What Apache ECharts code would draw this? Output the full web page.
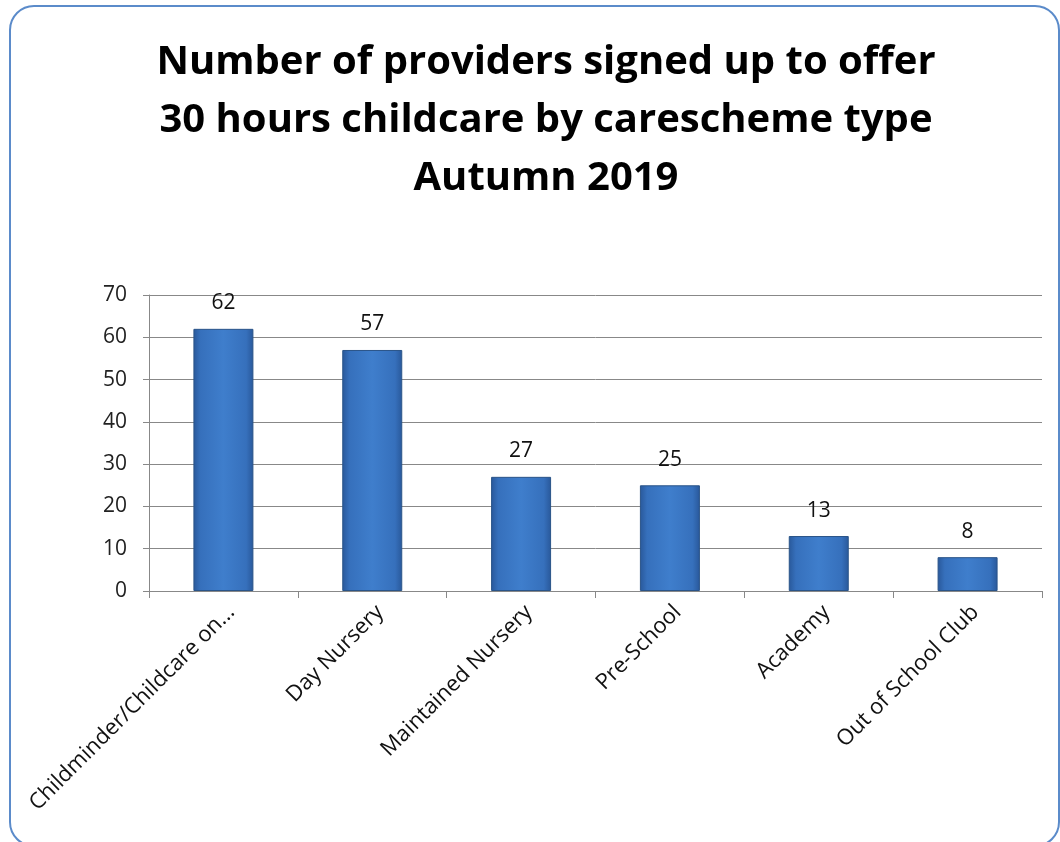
<!DOCTYPE html>
<html>
<head>
<meta charset="utf-8">
<script src="https://cdn.jsdelivr.net/npm/echarts@6/dist/echarts.min.js"></script>
<style>
  html, body { margin: 0; padding: 0; background: #fff; }
  #chart { width: 1060px; height: 842px; }
</style>
</head>
<body>
<div id="chart"></div>
<script>
var categories = ['Childminder/Childcare on...', 'Day Nursery', 'Maintained Nursery', 'Pre-School', 'Academy', 'Out of School Club'];
var providers = [62, 57, 27, 25, 13, 8];
var yTicks = [0, 10, 20, 30, 40, 50, 60, 70];

var chart = echarts.init(document.getElementById('chart'));
var font = '"Open Sans", Lato, sans-serif';

// darker sides, lighter middle, like the bevelled bars of the original
var barColor = new echarts.graphic.LinearGradient(0, 0, 1, 0, [
    {offset: 0, color: '#29589a'},
    {offset: 0.12, color: '#3670bc'},
    {offset: 0.5, color: '#3f7ecc'},
    {offset: 0.88, color: '#3670bc'},
    {offset: 1, color: '#29589a'}
]);

var option = {
    backgroundColor: '#fff',
    textStyle: {fontFamily: font},
    title: {
        text: 'Number of providers signed up to offer\n30 hours childcare by carescheme type\nAutumn 2019',
        left: 541,
        top: 29,
        textAlign: 'center',
        textStyle: {
            fontFamily: font,
            fontSize: 40,
            fontWeight: 'bold',
            color: '#000',
            lineHeight: 58
        }
    },
    graphic: [{
        type: 'rect',
        shape: {x: 10, y: 6, width: 1049, height: 840, r: 24},
        style: {fill: 'none', stroke: '#5b8bca', lineWidth: 2},
        silent: true
    }],
    grid: {left: 149, right: 18, top: 295, bottom: 251},
    xAxis: {
        type: 'category',
        data: categories,
        axisLine: {lineStyle: {color: '#888'}},
        axisTick: {show: true, length: 7, lineStyle: {color: '#888'}},
        axisLabel: {
            rotate: 45,
            interval: 0,
            margin: 10,
            verticalAlign: 'top',
            fontSize: 22,
            color: '#111',
            fontFamily: font
        }
    },
    yAxis: {
        type: 'value',
        min: yTicks[0],
        max: yTicks[yTicks.length - 1],
        interval: 10,
        axisLine: {show: true, lineStyle: {color: '#888'}},
        axisTick: {show: true, length: 6, lineStyle: {color: '#888'}},
        splitLine: {lineStyle: {color: '#888'}},
        axisLabel: {
            fontSize: 21,
            color: '#222',
            margin: 22,
            fontFamily: font
        }
    },
    series: [{
        type: 'bar',
        data: providers,
        barWidth: 60,
        itemStyle: {
            color: barColor,
            borderColor: '#2a5488',
            borderWidth: 1
        },
        label: {
            show: true,
            position: 'top',
            distance: 15,
            fontSize: 21,
            color: '#111',
            fontFamily: font
        }
    }]
};

chart.setOption(option);
</script>
</body>
</html>
